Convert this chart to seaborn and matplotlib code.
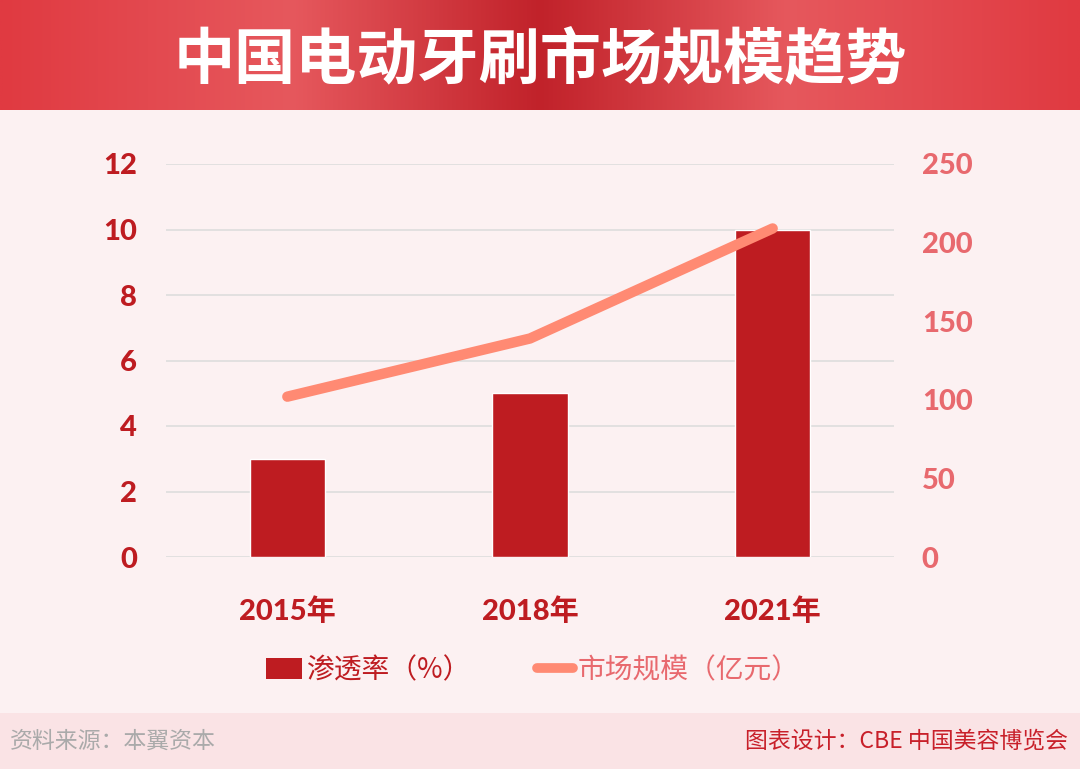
import numpy as np
import matplotlib
matplotlib.use("Agg")
import matplotlib.pyplot as plt
import seaborn as sns
from matplotlib.colors import LinearSegmentedColormap
from matplotlib.patches import Patch, Rectangle
from matplotlib.lines import Line2D

# Data
years = ["2015年", "2018年", "2021年"]
penetration = [3, 5, 10]          # 渗透率（%）
market_size = [102, 139, 209]     # 市场规模（亿元）
left_ticks = [0, 2, 4, 6, 8, 10, 12]
right_ticks = [0, 50, 100, 150, 200, 250]

# Colours
bg = "#FCF1F2"
bar_red = "#BE1C21"
line_col = "#FF8A73"
right_lab = "#E8696E"
grid_col = "#DDDDDD"

sns.set_theme(style="white")
plt.rcParams["font.family"] = ["Noto Sans CJK SC", "DejaVu Sans"]
num_font = ["Lato", "Noto Sans CJK SC", "DejaVu Sans"]

fig = plt.figure(figsize=(10.8, 7.69), dpi=100, facecolor=bg)

# Title banner with gradient
ban = fig.add_axes([0, 1 - 110 / 769, 1, 110 / 769])
cmap = LinearSegmentedColormap.from_list(
    "ban", [(0, "#E03A41"), (0.27, "#E6585D"), (0.5, "#C1222A"),
            (0.73, "#E6585D"), (1, "#E03A41")])
ban.imshow(np.linspace(0, 1, 512).reshape(1, -1), aspect="auto", cmap=cmap,
           extent=[0, 1, 0, 1])
ban.set_axis_off()
ban.text(0.5, 0.44, "中国电动牙刷市场规模趋势", color="white", fontsize=44,
         fontweight=900, ha="center", va="center")

# Footer band
fig.patches.append(Rectangle((0, 0), 1, 56 / 769, transform=fig.transFigure,
                             facecolor="#FAE3E5", edgecolor="none", zorder=0))
fig.text(10 / 1080, 28 / 769, "资料来源：本翼资本", color="#AAAAAA", fontsize=16.5,
         ha="left", va="center")
fig.text(1068 / 1080, 28 / 769, "图表设计：CBE 中国美容博览会", color="#C8202A",
         fontsize=16.5, ha="right", va="center")

# Main axes
ax = fig.add_axes([166 / 1080, (769 - 557) / 769, 728 / 1080, 393 / 769])
ax.set_facecolor(bg)
sns.barplot(x=years, y=penetration, color=bar_red, width=0.31, saturation=1,
            ax=ax, zorder=3)
ax.set_ylim(0, 12)
ax.set_yticks(left_ticks)
ax.set_xlim(-0.5, 2.5)
ax.yaxis.grid(True, color=grid_col, linewidth=1.2, zorder=0)
ax.set_axisbelow(True)
for s in ax.spines.values():
    s.set_visible(False)
ax.tick_params(axis="y", length=0, pad=21, labelsize=21, labelcolor=bar_red)
ax.tick_params(axis="x", length=0, pad=29, labelsize=21, labelcolor=bar_red)
for lab in ax.get_yticklabels() + ax.get_xticklabels():
    lab.set_fontweight(900)
    lab.set_family(num_font)
ax.set_xlabel("")
ax.set_ylabel("")

ax2 = ax.twinx()
sns.lineplot(x=[0, 1, 2], y=market_size, color=line_col, linewidth=7.5, ax=ax2,
             solid_capstyle="round", zorder=4)
ax2.set_ylim(0, 250)
ax2.set_yticks(right_ticks)
ax2.set_xlim(-0.5, 2.5)
for s in ax2.spines.values():
    s.set_visible(False)
ax2.tick_params(axis="y", length=0, pad=20, labelsize=21, labelcolor=right_lab)
for lab in ax2.get_yticklabels():
    lab.set_fontweight(900)
    lab.set_family(num_font)
ax2.grid(False)
ax2.set_ylabel("")

# Legend
handles = [Patch(facecolor=bar_red, edgecolor="none"),
           Line2D([0], [0], color=line_col, linewidth=7, solid_capstyle="round")]
leg = fig.legend(handles, ["渗透率（%）", "市场规模（亿元）"], loc="center",
                 bbox_to_anchor=(0.493, 1 - 670 / 769), ncol=2, frameon=False,
                 fontsize=20, handlelength=1.3, handleheight=0.8,
                 handletextpad=0.15, columnspacing=2.4)
leg.get_texts()[0].set_color(bar_red)
leg.get_texts()[1].set_color(right_lab)

fig.savefig("out.png", dpi=100, facecolor=bg)
